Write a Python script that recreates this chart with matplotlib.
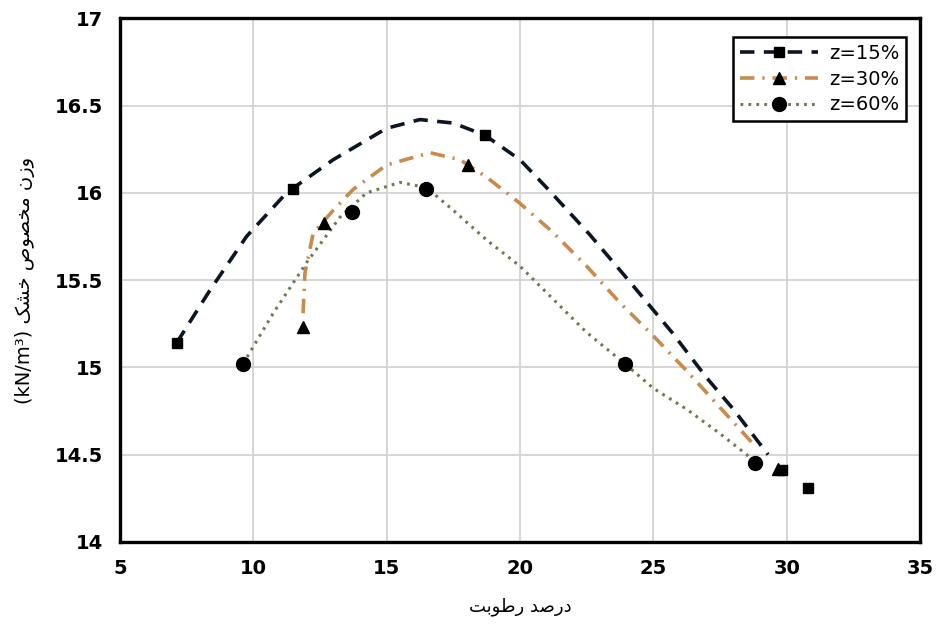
import matplotlib
matplotlib.use("Agg")
import matplotlib.pyplot as plt
from matplotlib.lines import Line2D

# measured points (moisture %, dry unit weight kN/m3)
x15 = [7.13, 11.50, 18.69, 29.81, 30.81]
y15 = [15.14, 16.02, 16.33, 14.41, 14.31]
x30 = [11.85, 12.66, 18.06, 29.67]
y30 = [15.23, 15.83, 16.16, 14.42]
x60 = [9.62, 13.69, 16.47, 23.94, 28.81]
y60 = [15.02, 15.89, 16.02, 15.02, 14.45]

# trend curves
c15_x = [7.13, 8.37, 9.75, 11.25, 13.0, 15.0, 16.25, 17.5, 18.69, 20.0, 21.06, 22.62, 24.12, 25.7, 27.0, 28.0, 29.3]
c15_y = [15.14, 15.44, 15.75, 16.0, 16.19, 16.37, 16.42, 16.40, 16.33, 16.19, 16.02, 15.76, 15.49, 15.2, 14.94, 14.76, 14.50]
c30_x = [11.87, 11.94, 12.25, 13.0, 13.75, 15.0, 16.63, 17.75, 18.75, 20.0, 21.19, 22.5, 23.75, 25.0, 26.25, 27.5, 28.87]
c30_y = [15.31, 15.54, 15.77, 15.90, 16.02, 16.16, 16.23, 16.19, 16.09, 15.94, 15.78, 15.58, 15.37, 15.18, 14.98, 14.77, 14.54]
c60_x = [9.62, 10.75, 12.0, 13.25, 14.25, 15.5, 16.5, 17.5, 18.75, 20.0, 21.25, 22.5, 23.94, 25.0, 26.25, 27.5, 28.5, 28.81]
c60_y = [15.02, 15.31, 15.60, 15.86, 16.0, 16.06, 16.03, 15.90, 15.73, 15.58, 15.39, 15.20, 15.02, 14.88, 14.76, 14.62, 14.50, 14.45]

labels = ["z=15%", "z=30%", "z=60%"]
xlabel_fa = "درصد رطوبت"
ylabel_fa = "وزن مخصوص خشک"

# persian letter forms: isolated, final, initial, medial
FORMS = {
    "ب": "\uFE8F\uFE90\uFE91\uFE92", "ت": "\uFE95\uFE96\uFE97\uFE98",
    "خ": "\uFEA5\uFEA6\uFEA7\uFEA8", "د": "\uFEA9\uFEAA",
    "ر": "\uFEAD\uFEAE", "ز": "\uFEAF\uFEB0",
    "ش": "\uFEB5\uFEB6\uFEB7\uFEB8", "ص": "\uFEB9\uFEBA\uFEBB\uFEBC",
    "ط": "\uFEC1\uFEC2\uFEC3\uFEC4", "م": "\uFEE1\uFEE2\uFEE3\uFEE4",
    "ن": "\uFEE5\uFEE6\uFEE7\uFEE8", "و": "\uFEED\uFEEE",
    "ک": "\uFB8E\uFB8F\uFB90\uFB91",
}


def shape(text):
    out = []
    for i, ch in enumerate(text):
        f = FORMS.get(ch)
        if f is None:
            out.append(ch)
            continue
        prev = text[i - 1] if i > 0 else ""
        nxt = text[i + 1] if i + 1 < len(text) else ""
        join_prev = prev in FORMS and len(FORMS[prev]) == 4
        join_next = nxt in FORMS and len(f) == 4
        if join_prev and join_next:
            out.append(f[3])
        elif join_prev:
            out.append(f[1])
        elif join_next:
            out.append(f[2])
        else:
            out.append(f[0])
    return "".join(out)[::-1]


fig = plt.figure(figsize=(9.36, 6.33), dpi=100)
ax = fig.add_axes([0.128, 0.144, 0.855, 0.827])

c_black = "#0c1526"
c_orange = "#c98a4d"
c_green = "#6b7a52"
ls15 = (0, (4.0, 2.6))
ls30 = (0, (4.0, 2.2, 0.6, 2.2))
ls60 = (0, (0.9, 1.7))

ax.plot(c15_x, c15_y, color=c_black, lw=2.6, linestyle=ls15)
ax.plot(c30_x, c30_y, color=c_orange, lw=2.6, linestyle=ls30)
ax.plot(c60_x, c60_y, color=c_green, lw=2.2, linestyle=ls60)

ax.plot(x15, y15, "s", color="black", ms=7.5, linestyle="none")
ax.plot(x30, y30, "^", color="black", ms=9, linestyle="none")
ax.plot(x60, y60, "o", color="black", ms=10, linestyle="none")

handles = [
    Line2D([], [], color=c_black, lw=2.6, linestyle=ls15, marker="s", ms=7.5, mfc="black", mec="black"),
    Line2D([], [], color=c_orange, lw=2.6, linestyle=ls30, marker="^", ms=9, mfc="black", mec="black"),
    Line2D([], [], color=c_green, lw=2.2, linestyle=ls60, marker="o", ms=10, mfc="black", mec="black"),
]
leg = ax.legend(handles, labels, loc="upper right", bbox_to_anchor=(0.995, 0.983),
                fontsize=14, frameon=True, fancybox=False, edgecolor="black",
                framealpha=1, handlelength=4.0, handletextpad=0.6, borderpad=0.35,
                labelspacing=0.35)
leg.get_frame().set_linewidth(1.8)

ax.set_xlim(5, 35)
ax.set_ylim(14, 17)
ax.set_xticks([5, 10, 15, 20, 25, 30, 35])
ax.set_yticks([14, 14.5, 15, 15.5, 16, 16.5, 17])
ax.set_yticklabels(["14", "14.5", "15", "15.5", "16", "16.5", "17"])
ax.grid(True, color="#d0d0d0", lw=1.2)
ax.set_axisbelow(True)
for s in ax.spines.values():
    s.set_linewidth(2.4)
    s.set_color("black")
ax.tick_params(length=0, labelsize=14, pad=12)
for t in ax.get_xticklabels() + ax.get_yticklabels():
    t.set_fontweight("bold")

ax.set_xlabel(shape(xlabel_fa), fontsize=13, family="DejaVu Sans", labelpad=14)
ax.set_ylabel("(kN/m³) " + shape(ylabel_fa), fontsize=14, family="DejaVu Sans", labelpad=14)

fig.savefig("out.png", dpi=100)
